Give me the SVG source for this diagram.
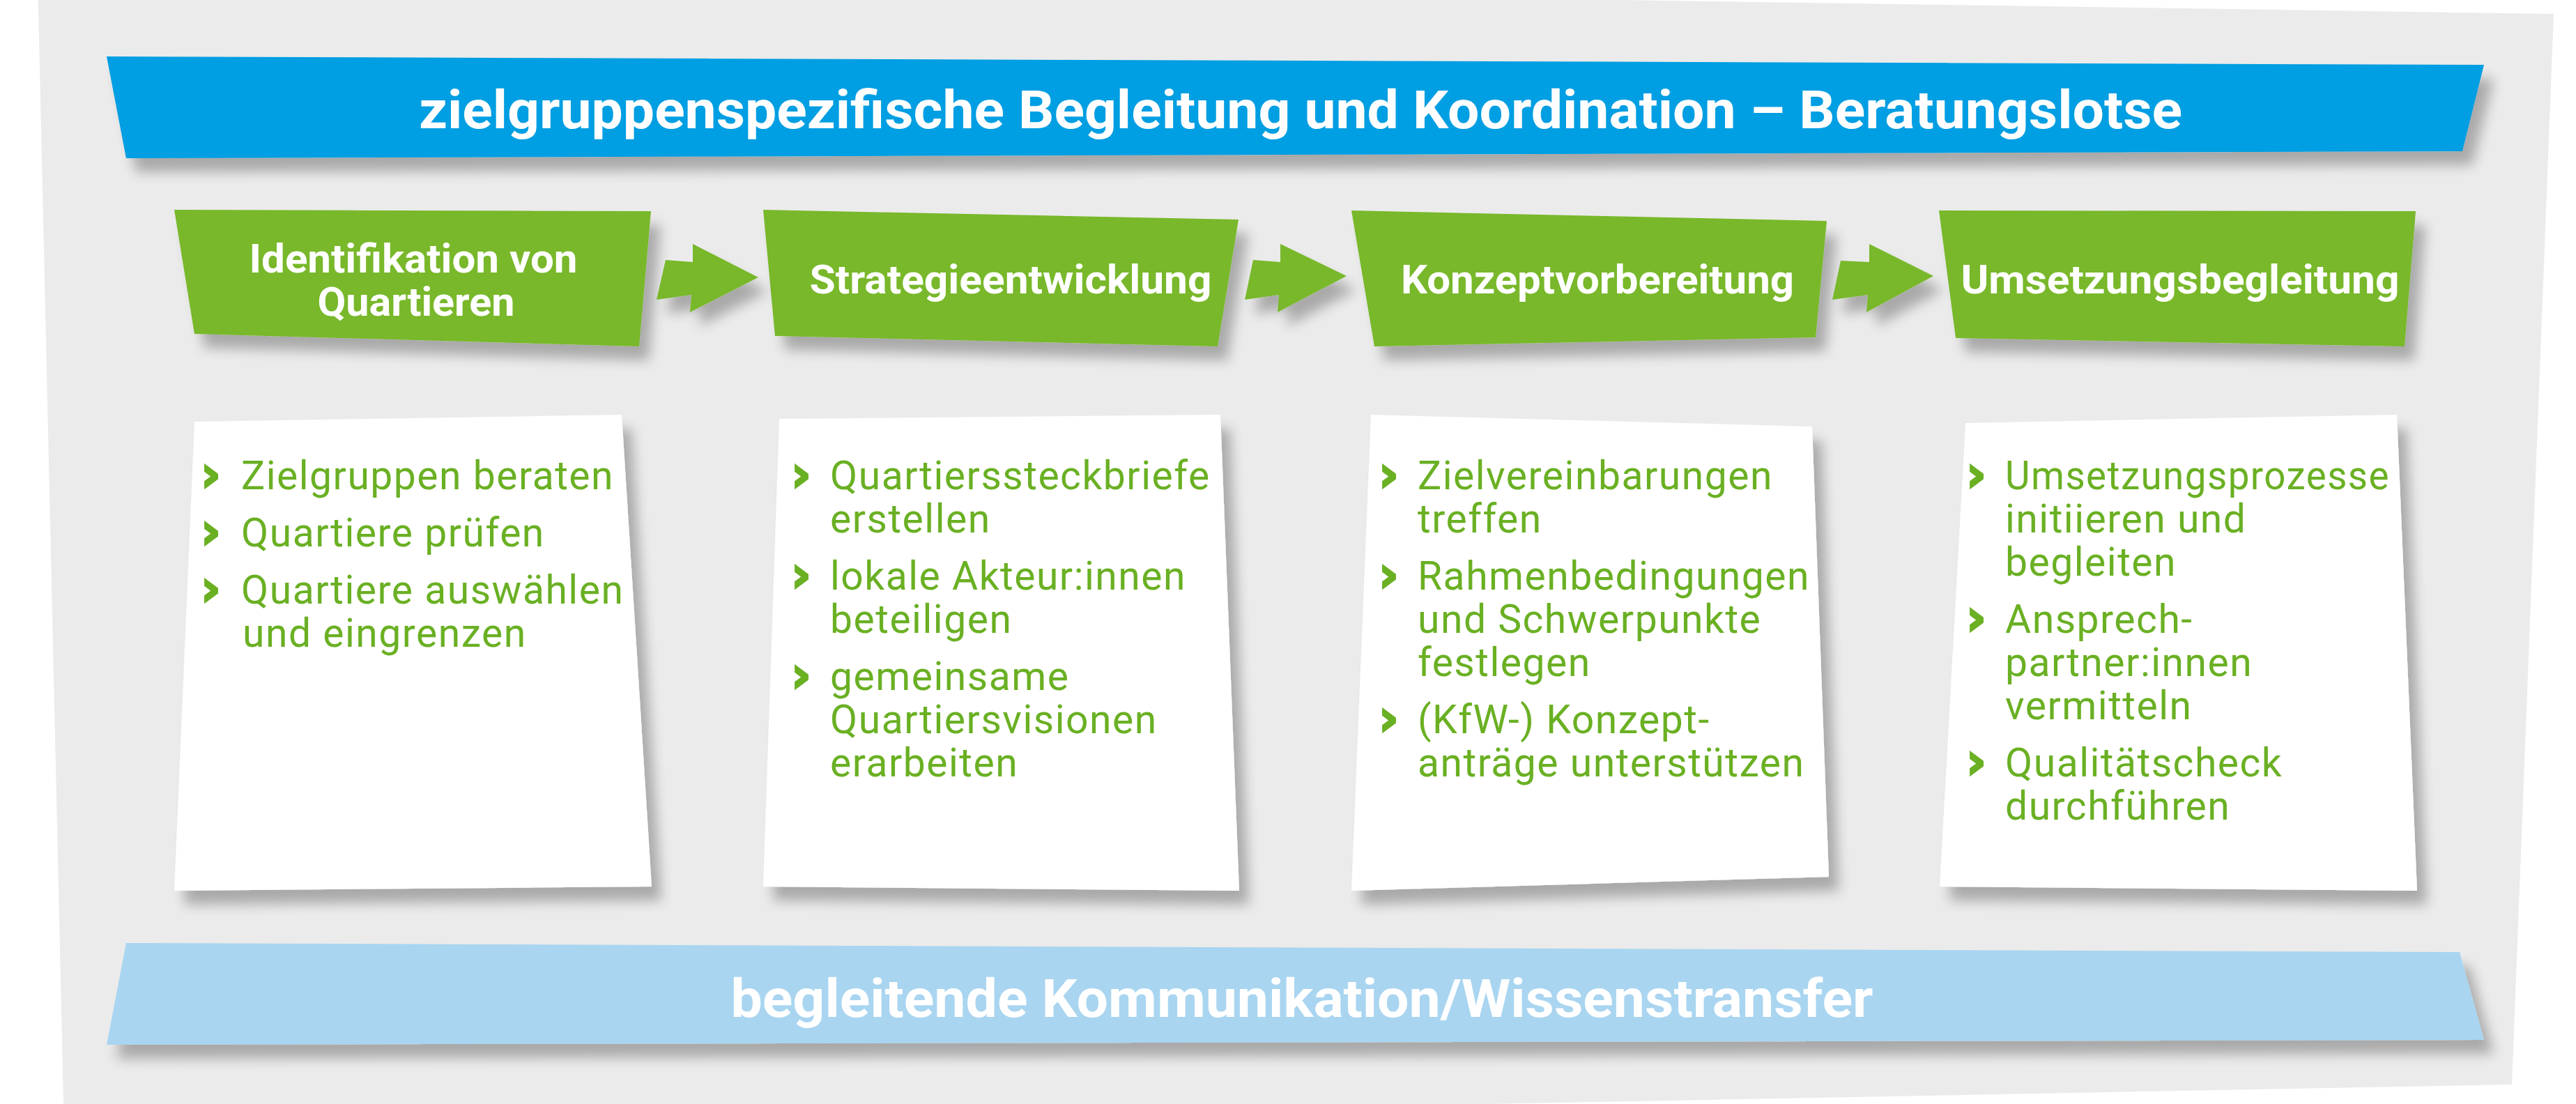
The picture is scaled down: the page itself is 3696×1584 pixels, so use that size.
<svg xmlns="http://www.w3.org/2000/svg" width="3696" height="1584" viewBox="0 0 3696 1584">
<defs>
<filter id="sh" x="-10%" y="-20%" width="130%" height="160%">
<feGaussianBlur in="SourceAlpha" stdDeviation="9"/>
<feOffset dx="14" dy="20" result="o"/>
<feComponentTransfer><feFuncA type="linear" slope="0.28"/></feComponentTransfer>
<feMerge><feMergeNode/><feMergeNode in="SourceGraphic"/></feMerge>
</filter>
<style>
.bg{fill:#ebebeb}
.blue{fill:#009ee2}
.lblue{fill:#a9d5f0}
.green{fill:#78b82a}
.card{fill:#ffffff}
.ban{font-family:Roboto,"Liberation Sans",sans-serif;font-weight:bold;font-size:76px;fill:#ffffff;text-anchor:middle}
.hd{font-family:Roboto,"Liberation Sans",sans-serif;font-weight:bold;font-size:58px;fill:#ffffff;text-anchor:middle}
.tx{font-family:Roboto,"Liberation Sans",sans-serif;font-size:57px;fill:#6ab023;letter-spacing:1.5px}
.bu{font-family:"DejaVu Sans",sans-serif;font-weight:bold;font-size:70px;fill:#6ab023;stroke:#6ab023;stroke-width:3px;stroke-linejoin:miter}
</style>
</defs>
<rect width="3696" height="1584" fill="#ffffff"/>
<polygon class="bg" points="54,-34 3664,20 3604,1556 92,1623"/>

<g id="banner-top">
<polygon class="blue" filter="url(#sh)" points="153,81 3564,93 3533,217 181,227"/>
<text class="ban" x="1866" y="184" textLength="2530" lengthAdjust="spacingAndGlyphs">zielgruppenspezifische Begleitung und Koordination – Beratungslotse</text>
</g>

<g id="step1">
<polygon class="green" filter="url(#sh)" points="250,301 934,303 917,497 279,479"/>
<text class="hd" x="593" y="391" textLength="471" lengthAdjust="spacingAndGlyphs">Identifikation von</text>
<text class="hd" x="597" y="453" textLength="283" lengthAdjust="spacingAndGlyphs">Quartieren</text>
</g>
<g id="step2">
<polygon class="green" filter="url(#sh)" points="1095,301 1777,315 1747,497 1112,482"/>
<text class="hd" x="1450" y="421" textLength="577" lengthAdjust="spacingAndGlyphs">Strategieentwicklung</text>
</g>
<g id="step3">
<polygon class="green" filter="url(#sh)" points="1939,302 2621,317 2605,484 1972,497"/>
<text class="hd" x="2292" y="421" textLength="564" lengthAdjust="spacingAndGlyphs">Konzeptvorbereitung</text>
</g>
<g id="step4">
<polygon class="green" filter="url(#sh)" points="2782,302 3466,303 3450,497 2806,485"/>
<text class="hd" x="3128" y="421" textLength="629" lengthAdjust="spacingAndGlyphs">Umsetzungsbegleitung</text>
</g>

<g id="connectors">
<polygon class="green" filter="url(#sh)" points="955,373 994,376 994,350 1088,398 990,448 992,423 942,430"/>
<polygon class="green" filter="url(#sh)" points="1798,373 1837,376 1837,350 1932,396 1833,448 1835,423 1786,430"/>
<polygon class="green" filter="url(#sh)" points="2641,374 2682,376 2682,350 2774,396 2678,448 2680,423 2629,430"/>
</g>

<g id="card1">
<polygon class="card" filter="url(#sh)" points="279,605 892,595 935,1272 250,1278"/>
<text class="bu" x="288" y="704">›</text>
<text class="tx" x="346" y="702">Zielgruppen beraten</text>
<text class="bu" x="288" y="786">›</text>
<text class="tx" x="346" y="784">Quartiere prüfen</text>
<text class="bu" x="288" y="868">›</text>
<text class="tx" x="346" y="866">Quartiere auswählen</text>
<text class="tx" x="348" y="928">und eingrenzen</text>
</g>

<g id="card2">
<polygon class="card" filter="url(#sh)" points="1118,601 1751,595 1778,1278 1095,1272"/>
<text class="bu" x="1135" y="704">›</text>
<text class="tx" x="1191" y="702">Quartierssteckbriefe</text>
<text class="tx" x="1191" y="764">erstellen</text>
<text class="bu" x="1135" y="848">›</text>
<text class="tx" x="1191" y="846">lokale Akteur:innen</text>
<text class="tx" x="1191" y="908">beteiligen</text>
<text class="bu" x="1135" y="992">›</text>
<text class="tx" x="1191" y="990">gemeinsame</text>
<text class="tx" x="1191" y="1052">Quartiersvisionen</text>
<text class="tx" x="1191" y="1114">erarbeiten</text>
</g>

<g id="card3">
<polygon class="card" filter="url(#sh)" points="1967,595 2600,612 2624,1258 1939,1278"/>
<text class="bu" x="1978" y="704">›</text>
<text class="tx" x="2034" y="702">Zielvereinbarungen</text>
<text class="tx" x="2034" y="764">treffen</text>
<text class="bu" x="1978" y="848">›</text>
<text class="tx" x="2034" y="846">Rahmenbedingungen</text>
<text class="tx" x="2034" y="908">und Schwerpunkte</text>
<text class="tx" x="2034" y="970">festlegen</text>
<text class="bu" x="1978" y="1054">›</text>
<text class="tx" x="2034" y="1052">(KfW-) Konzept-</text>
<text class="tx" x="2034" y="1114">anträge unterstützen</text>
</g>

<g id="card4">
<polygon class="card" filter="url(#sh)" points="2820,607 3439,595 3468,1278 2783,1272"/>
<text class="bu" x="2821" y="704">›</text>
<text class="tx" x="2877" y="702" textLength="552" lengthAdjust="spacingAndGlyphs">Umsetzungsprozesse</text>
<text class="tx" x="2877" y="764">initiieren und</text>
<text class="tx" x="2877" y="826">begleiten</text>
<text class="bu" x="2821" y="910">›</text>
<text class="tx" x="2877" y="908">Ansprech-</text>
<text class="tx" x="2877" y="970">partner:innen</text>
<text class="tx" x="2877" y="1032">vermitteln</text>
<text class="bu" x="2821" y="1116">›</text>
<text class="tx" x="2877" y="1114">Qualitätscheck</text>
<text class="tx" x="2877" y="1176">durchführen</text>
</g>

<g id="banner-bottom">
<polygon class="lblue" filter="url(#sh)" points="181,1353 3529,1366 3564,1492 153,1499"/>
<text class="ban" x="1868" y="1459" textLength="1639" lengthAdjust="spacingAndGlyphs">begleitende Kommunikation/Wissenstransfer</text>
</g>
</svg>
